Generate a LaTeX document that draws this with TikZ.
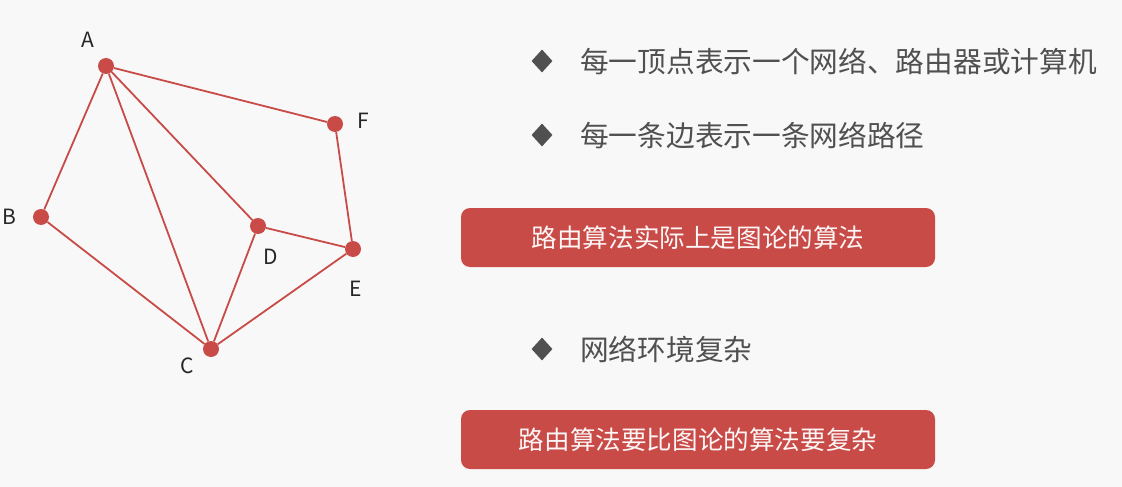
\documentclass[tikz,border=0pt]{standalone}
\usepackage{fontspec}
\setmainfont{Noto Sans CJK SC}
\usepackage{tikz}
\usetikzlibrary{positioning,shapes.geometric}
\definecolor{routered}{HTML}{C84B47}
\definecolor{bggray}{HTML}{F8F8F8}
\definecolor{txtgray}{HTML}{505050}
\tikzstyle{vertex}=[%
      circle, fill=routered, inner sep=0pt, minimum size=16pt
]
\tikzstyle{lbl}=[%
      text=black!85, font=\fontsize{21}{25}\selectfont, inner sep=0pt
]
\tikzstyle{bullet}=[%
      diamond, fill=txtgray, inner sep=0pt, minimum width=21pt, minimum height=23pt
]
\tikzstyle{point}=[%
      anchor=west, text=txtgray, font=\fontsize{28.7}{34}\selectfont, inner sep=0pt
]
\tikzstyle{banner}=[%
      rectangle, rounded corners=9pt, fill=routered, text=white!95!routered,
      minimum width=474pt, minimum height=59pt, font=\fontsize{25.6}{31}\selectfont
]

\begin{document}
\begin{tikzpicture}[x=1pt, y=-1pt]
    \fill[bggray] (0,0) rectangle (1122,487);
    \useasboundingbox (0,0) rectangle (1122,487);

    % graph
    \node[vertex] (A) at (106,66)  {};
    \node[vertex] (F) at (335,124) {};
    \node[vertex] (B) at (41,217)  {};
    \node[vertex] (D) at (258,226) {};
    \node[vertex] (E) at (353,249) {};
    \node[vertex] (C) at (211,349) {};

    \node[lbl] (lA) at (88,40)   {A};
    \node[lbl] (lF) at (363,121) {F};
    \node[lbl] (lB) at (9,217)   {B};
    \node[lbl] (lD) at (271,257) {D};
    \node[lbl] (lE) at (356,289) {E};
    \node[lbl] (lC) at (187,366) {C};

    \path[draw=routered, line width=1.8pt]
          (A) edge (B)
          (A) edge (C)
          (A) edge (D)
          (A) edge (F)
          (B) edge (C)
          (C) edge (D)
          (C) edge (E)
          (D) edge (E)
          (F) edge (E)
    ;

    % points
    \node[bullet] (b1) at (542,61)  {};
    \node[bullet] (b2) at (542,135) {};
    \node[bullet] (b3) at (542,349) {};
    \node[point]  (p1) at (580,61)  {每一顶点表示一个网络、路由器或计算机};
    \node[point]  (p2) at (580,135) {每一条边表示一条网络路径};
    \node[point]  (p3) at (580,349) {网络环境复杂};

    \node[banner] (r1) at (698,237.5) {路由算法实际上是图论的算法};
    \node[banner] (r2) at (698,439.5) {路由算法要比图论的算法要复杂};
\end{tikzpicture}
\end{document}
